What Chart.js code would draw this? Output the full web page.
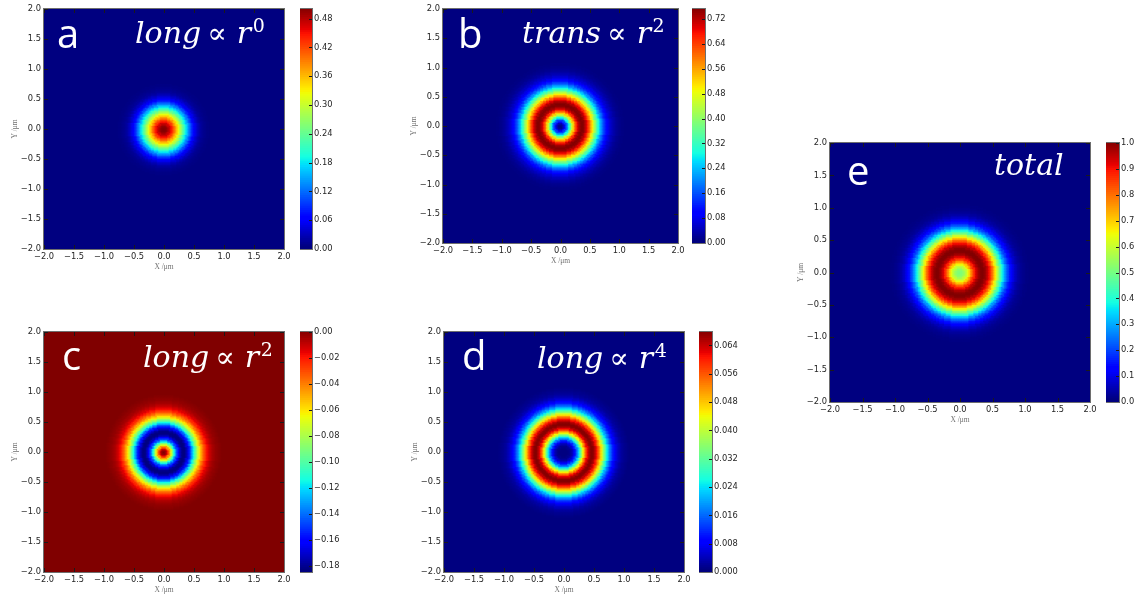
<!DOCTYPE html>
<html><head><meta charset="utf-8">
<script src="https://cdn.jsdelivr.net/npm/chart.js@4.4.1/dist/chart.umd.min.js"></script>
<style>
html,body{margin:0;padding:0;background:#fff;overflow:hidden;width:1142px;height:601px;position:relative;}
canvas{position:absolute;}
</style></head><body>
<script>
// ---------------- DATA ----------------
// radius (μm) at which each radial profile was read
const radii = [0,0.025,0.05,0.075,0.1,0.125,0.15,0.175,0.2,0.225,0.25,0.275,0.3,0.325,0.35,0.375,0.4,0.425,0.45,0.475,0.5,0.525,0.55,0.575,0.6,0.625,0.65,0.675,0.7,0.725,0.75,0.775,0.8,0.825,0.85,0.875,0.9,0.925,0.95,0.975,1.0,1.025,1.05,1.075,1.1,1.125,1.15,1.175,1.2];
// panel a: long ∝ r^0
const profileA = [0.500,0.498,0.491,0.480,0.465,0.446,0.424,0.400,0.373,0.345,0.316,0.287,0.258,0.230,0.202,0.176,0.150,0.125,0.100,0.080,0.062,0.048,0.036,0.026,0.019,0.013,0.009,0.006,0.004,0.003,0.002,0.0015,0.001,0.0007,0.0005,0.0003,0.0002,0.0001,0,0,0,0,0,0,0,0,0,0,0];
// panel b: trans ∝ r^2
const profileB = [0,0.0093,0.0366,0.0804,0.1384,0.2076,0.2843,0.3647,0.4447,0.5209,0.5896,0.6482,0.6945,0.7272,0.7455,0.7497,0.7405,0.7190,0.6870,0.6465,0.5995,0.5481,0.4943,0.4400,0.3865,0.3354,0.2874,0.2434,0.2036,0.1684,0.1376,0.1112,0.0889,0.0703,0.0549,0.0425,0.0325,0.0246,0.0184,0.0137,0.0100,0.0073,0.0052,0.0037,0.0026,0.0018,0.0013,0.0009,0.0006];
// panel c: long ∝ r^2
const profileC = [0,-0.0033,-0.0128,-0.0278,-0.0472,-0.0694,-0.0925,-0.1143,-0.1341,-0.1508,-0.1647,-0.1754,-0.1822,-0.1850,-0.1837,-0.1785,-0.1700,-0.1587,-0.1456,-0.1312,-0.1162,-0.1014,-0.0868,-0.0733,-0.0611,-0.0500,-0.0403,-0.0320,-0.0252,-0.0194,-0.0148,-0.0111,-0.0083,-0.0061,-0.0044,-0.0031,-0.0022,-0.0015,-0.0011,-0.0007,-0.0005,-0.0003,-0.0002,-0.0001,-0.0001,-0.00006,-0.00004,-0.00002,0];
// panel d: long ∝ r^4
const profileD = [0,0.000004,0.000063,0.000307,0.000932,0.002166,0.004221,0.007265,0.011385,0.016564,0.022673,0.029477,0.036653,0.043825,0.050596,0.056584,0.061466,0.064987,0.067006,0.067470,0.066431,0.064028,0.060469,0.055995,0.050884,0.045401,0.039794,0.034283,0.029054,0.024220,0.019857,0.016036,0.012748,0.009979,0.007697,0.005849,0.004383,0.003236,0.002354,0.001689,0.001195,0.000835,0.000574,0.000390,0.000263,0.000173,0.000115,0.000072,0.000047];
// panel e: total
const profileE = [0.500,0.505,0.520,0.545,0.580,0.630,0.690,0.757,0.820,0.875,0.920,0.955,0.980,0.995,1.000,0.990,0.970,0.940,0.900,0.855,0.800,0.732,0.660,0.590,0.520,0.453,0.390,0.328,0.270,0.222,0.180,0.142,0.110,0.086,0.065,0.049,0.035,0.026,0.018,0.013,0.009,0.006,0.004,0.003,0.002,0.0015,0.001,0.0005,0];

// colour-bar ranges [min, max] and their tick labels
const rangeA = [0, 0.500];
const rangeB = [0, 0.752];
const rangeC = [-0.185, 0];
const rangeD = [0, 0.0678];
const rangeE = [0, 1.0];
const cbarTicksA = [0,0.06,0.12,0.18,0.24,0.30,0.36,0.42,0.48];
const cbarTicksB = [0,0.08,0.16,0.24,0.32,0.40,0.48,0.56,0.64,0.72];
const cbarTicksC = [-0.18,-0.16,-0.14,-0.12,-0.10,-0.08,-0.06,-0.04,-0.02,0];
const cbarTicksD = [0,0.008,0.016,0.024,0.032,0.040,0.048,0.056,0.064];
const cbarTicksE = [0,0.1,0.2,0.3,0.4,0.5,0.6,0.7,0.8,0.9,1.0];

// X / Y axis ticks (μm)
const axisTicks = [-2.0,-1.5,-1.0,-0.5,0.0,0.5,1.0,1.5,2.0];
const axisRange = [-2, 2];

// panel texts
const panelLetters = ['a','b','c','d','e'];
const panelFormulas = [
  ['long','∝','r','0'],
  ['trans','∝','r','2'],
  ['long','∝','r','2'],
  ['long','∝','r','4'],
  ['total']
];
const xTitle = 'X /μm';
const yTitle = 'Y /μm';

// --------------- cell grids (positions only) ----------------
const fineCentres = [];     // 0.025 μm cells over the central region
for (let i = 0; i <= 100; i++) fineCentres.push(+(-1.25 + i * 0.025).toFixed(3));
const coarseCentres = [];   // 0.1 μm cells for the flat outer region
for (let i = 0; i <= 40; i++) coarseCentres.push(+(-2 + i * 0.1).toFixed(2));

// --------------- helpers ----------------
const JET = {
  r: [[0,0],[0.35,0],[0.66,1],[0.89,1],[1,0.5]],
  g: [[0,0],[0.125,0],[0.375,1],[0.64,1],[0.91,0],[1,0]],
  b: [[0,0.5],[0.11,1],[0.34,1],[0.65,0],[1,0]]
};
function seg(pts, x) {
  for (let i = 1; i < pts.length; i++) {
    if (x <= pts[i][0]) {
      const [x0,y0] = pts[i-1], [x1,y1] = pts[i];
      return y0 + (y1 - y0) * (x - x0) / (x1 - x0);
    }
  }
  return pts[pts.length-1][1];
}
function jet(p) {
  p = Math.max(0, Math.min(1, p));
  p = Math.floor(p * 255.999) / 255;
  return 'rgb(' + Math.round(seg(JET.r,p)*255) + ',' + Math.round(seg(JET.g,p)*255) + ',' + Math.round(seg(JET.b,p)*255) + ')';
}
function sampleProfile(profile, r) {
  if (r > radii[radii.length-1]) return profile[profile.length-1];
  let best = 0, bd = Infinity;
  for (let i = 0; i < radii.length; i++) {
    const d = Math.abs(radii[i] - r);
    if (d < bd) { bd = d; best = i; }
  }
  return profile[best];
}
function fmt(v, dec) {
  const s = Math.abs(v).toFixed(dec);
  return (v < 0 && Math.abs(v) > 1e-12) ? '\u2212' + s : s;
}
const TICK_FONT = {family: 'DejaVu Sans', size: 8.3};
const TICK_COLOR = '#262626';

const framePlugin = {
  id: 'frame',
  afterDatasetsDraw(chart, args, opts) {
    const {ctx, chartArea: ca} = chart;
    const l = Math.round(ca.left), t = Math.round(ca.top), r = Math.round(ca.right), b = Math.round(ca.bottom);
    ctx.save();
    ctx.lineWidth = 1;
    ctx.strokeStyle = '#1a1a1a';
    ctx.beginPath();
    if (opts.kind === 'plot') {
      const xs = chart.scales.x, ys = chart.scales.y;
      for (const v of axisTicks) {
        const px = Math.round(xs.getPixelForValue(v)) + 0.5;
        ctx.moveTo(px, b); ctx.lineTo(px, b - 4);
        ctx.moveTo(px, t); ctx.lineTo(px, t + 4);
        const py = Math.round(ys.getPixelForValue(v)) + 0.5;
        ctx.moveTo(l, py); ctx.lineTo(l + 4, py);
        ctx.moveTo(r, py); ctx.lineTo(r - 4, py);
      }
    } else {
      const ys = chart.scales.y;
      for (const tk of ys.ticks) {
        const py = Math.round(ys.getPixelForValue(tk.value)) + 0.5;
        ctx.moveTo(r, py); ctx.lineTo(r - 3, py);
      }
    }
    ctx.stroke();
    ctx.strokeStyle = '#6e6e6e';
    ctx.strokeRect(l - 0.5, t - 0.5, r - l + 1, b - t + 1);
    ctx.restore();
  }
};

const textPlugin = {
  id: 'paneltext',
  afterDraw(chart, args, opts) {
    const {ctx, chartArea: ca} = chart;
    ctx.save();
    ctx.fillStyle = '#ffffff';
    ctx.textBaseline = 'alphabetic';
    ctx.textAlign = 'left';
    ctx.font = '40px "Open Sans"';
    ctx.fillText(opts.letter, ca.left + opts.letterOff[0], ca.top + opts.letterOff[1]);
    let x = ca.left + opts.formulaOff[0];
    const y = ca.top + opts.formulaOff[1];
    const styles = [
      {font: 'italic 30px "DejaVu Serif"', after: 6, raise: 0},
      {font: '29px "DejaVu Serif"', after: 10, raise: 0},
      {font: 'italic 30px "DejaVu Serif"', after: 1.5, raise: 0},
      {font: '19px "DejaVu Serif"', after: 0, raise: 11}
    ];
    opts.formula.forEach((txt, i) => {
      const st = styles[i];
      ctx.font = st.font;
      ctx.fillText(txt, x, y - st.raise);
      x += ctx.measureText(txt).width + st.after;
    });
    ctx.restore();
  }
};

function buildCells(profile, range, centres, keep) {
  const data = [], colors = [];
  for (const y of centres) {
    for (const x of centres) {
      if (!keep(x, y)) continue;
      const v = sampleProfile(profile, Math.hypot(x, y));
      data.push({x, y});
      colors.push(jet((v - range[0]) / (range[1] - range[0])));
    }
  }
  return {data, colors};
}

function makeHeatmap(cfg) {
  const {L, T, R, B, profile, range} = cfg;
  const padT = 8, padR = 16, yW = 44, xH = 26;
  const w = (R - L) + yW + padR, h = (B - T) + xH + padT;
  const canvas = document.createElement('canvas');
  canvas.width = w; canvas.height = h;
  canvas.style.left = (L - yW) + 'px';
  canvas.style.top = (T - padT) + 'px';
  canvas.style.width = w + 'px'; canvas.style.height = h + 'px';
  document.body.appendChild(canvas);

  const outer = buildCells(profile, range, coarseCentres, (x, y) => Math.max(Math.abs(x), Math.abs(y)) > 1.29);
  const inner = buildCells(profile, range, fineCentres, () => true);
  const pxPerUm = (R - L) / 4;
  const radOuter = (pxPerUm * 0.1 + 1.2) / Math.SQRT2;
  const radInner = (pxPerUm * 0.025 + 1.05) / Math.SQRT2;
  const cellSet = (c, rad) => ({
    data: c.data, pointStyle: 'rect', pointRadius: rad, pointHoverRadius: rad, pointHitRadius: 0,
    pointBackgroundColor: c.colors, pointBorderWidth: 0, borderWidth: 0, clip: 0
  });
  const axisCommon = (title, isX) => ({
    type: 'linear', min: axisRange[0], max: axisRange[1],
    afterBuildTicks: s => { s.ticks = axisTicks.map(v => ({value: v})); },
    afterFit: s => { if (isX) s.height = xH; else s.width = yW; },
    ticks: {callback: v => fmt(v, 1), font: TICK_FONT, color: TICK_COLOR, padding: 3, maxRotation: 0, autoSkip: false},
    grid: {display: false, drawTicks: false},
    border: {display: false},
    title: {display: true, text: title, font: {family: 'Liberation Serif', size: 7.5}, color: '#707070',
            padding: isX ? {top: 0, bottom: 3} : {top: 11, bottom: 0}}
  });
  new Chart(canvas, {
    type: 'scatter',
    data: {datasets: [cellSet(outer, radOuter), cellSet(inner, radInner)]},
    options: {
      responsive: false, animation: false, events: [], parsing: false,
      layout: {padding: {top: padT, right: padR, left: 0, bottom: 0}},
      plugins: {
        legend: {display: false}, tooltip: {enabled: false},
        frame: {kind: 'plot'},
        paneltext: {letter: cfg.letter, formula: cfg.formula, letterOff: cfg.letterOff, formulaOff: cfg.formulaOff}
      },
      scales: {x: axisCommon(xTitle, true), y: axisCommon(yTitle, false)}
    },
    plugins: [framePlugin, textPlugin]
  });
}

function makeColorbar(cfg) {
  const {L, R, T, B, range, ticks, dec} = cfg;
  const padT = 8, axW = 44;
  const w = (R - L) + axW, h = (B - T) + 2 * padT;
  const canvas = document.createElement('canvas');
  canvas.width = w; canvas.height = h;
  canvas.style.left = L + 'px'; canvas.style.top = (T - padT) + 'px';
  canvas.style.width = w + 'px'; canvas.style.height = h + 'px';
  document.body.appendChild(canvas);
  const N = 128, datasets = [];
  const span = range[1] - range[0];
  for (let i = 0; i < N; i++) {
    const lo = range[0] + span * i / N;
    const hi = range[0] + span * (i + 1.6) / N;
    datasets.push({data: [[lo, hi]], backgroundColor: jet((i + 0.5) / N), borderWidth: 0,
                   grouped: false, barPercentage: 1, categoryPercentage: 1, clip: 0});
  }
  new Chart(canvas, {
    type: 'bar',
    data: {labels: [''], datasets},
    options: {
      responsive: false, animation: false, events: [],
      layout: {padding: {top: padT, bottom: padT, left: 0, right: 0}},
      plugins: {legend: {display: false}, tooltip: {enabled: false}, frame: {kind: 'cbar'}},
      scales: {
        x: {display: false},
        y: {
          position: 'right', min: range[0], max: range[1],
          afterBuildTicks: s => { s.ticks = ticks.map(v => ({value: v})); },
          afterFit: s => { s.width = axW; },
          ticks: {callback: v => fmt(v, dec), font: TICK_FONT, color: TICK_COLOR, padding: 2, autoSkip: false},
          grid: {display: false, drawTicks: false},
          border: {display: false}
        }
      }
    },
    plugins: [framePlugin]
  });
}

// --------------- panels ----------------
makeHeatmap({L: 44, T: 9, R: 284, B: 249, profile: profileA, range: rangeA,
  letter: panelLetters[0], formula: panelFormulas[0], letterOff: [13, 39], formulaOff: [91, 34]});
makeColorbar({L: 300, R: 312, T: 9, B: 249, range: rangeA, ticks: cbarTicksA, dec: 2});

makeHeatmap({L: 443, T: 9, R: 678, B: 243, profile: profileB, range: rangeB,
  letter: panelLetters[1], formula: panelFormulas[1], letterOff: [15, 39], formulaOff: [79, 34]});
makeColorbar({L: 692, R: 705, T: 9, B: 243, range: rangeB, ticks: cbarTicksB, dec: 2});

makeHeatmap({L: 44, T: 332, R: 284, B: 572, profile: profileC, range: rangeC,
  letter: panelLetters[2], formula: panelFormulas[2], letterOff: [18, 38], formulaOff: [99, 35]});
makeColorbar({L: 300, R: 312, T: 332, B: 572, range: rangeC, ticks: cbarTicksC, dec: 2});

makeHeatmap({L: 444, T: 332, R: 684, B: 572, profile: profileD, range: rangeD,
  letter: panelLetters[3], formula: panelFormulas[3], letterOff: [18, 38], formulaOff: [93, 36]});
makeColorbar({L: 699, R: 712, T: 332, B: 572, range: rangeD, ticks: cbarTicksD, dec: 3});

makeHeatmap({L: 830, T: 143, R: 1090, B: 402, profile: profileE, range: rangeE,
  letter: panelLetters[4], formula: panelFormulas[4], letterOff: [17, 42], formulaOff: [164, 32]});
makeColorbar({L: 1106, R: 1119, T: 143, B: 402, range: rangeE, ticks: cbarTicksE, dec: 1});
</script>
</body></html>
